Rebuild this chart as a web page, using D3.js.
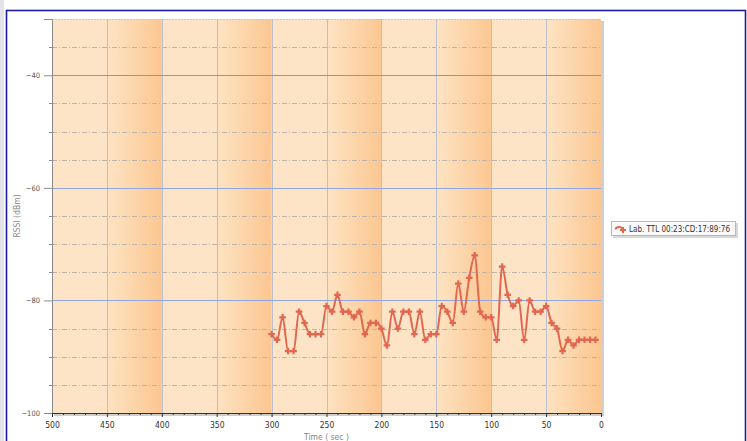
<!DOCTYPE html>
<html><head><meta charset="utf-8">
<script src="https://cdn.jsdelivr.net/npm/d3@7"></script>
<style>body{margin:0;background:#fff;}svg{display:block;}</style>
</head><body>
<svg id="c" width="747" height="441"></svg>
<script>
const seriesName = "Lab. TTL 00:23:CD:17:89:76";
const times = [300,295,290,285,280,275,270,265,260,255,250,245,240,235,230,225,220,215,210,205,200,195,190,185,180,175,170,165,160,155,150,145,140,135,130,125,120,115,110,105,100,95,90,85,80,75,70,65,60,55,50,45,40,35,30,25,20,15,10,5];
const rssi = [-86,-87,-83,-89,-89,-82,-84,-86,-86,-86,-81,-82,-79,-82,-82,-83,-82,-86,-84,-84,-85,-88,-82,-85,-82,-82,-86,-82,-87,-86,-86,-81,-82,-84,-77,-82,-76,-72,-82,-83,-83,-87,-74,-79,-81,-80,-87,-80,-82,-82,-81,-84,-85,-89,-87,-88,-87,-87,-87,-87];
const xTicks = [500,450,400,350,300,250,200,150,100,50,0];
const yTicks = [-100,-80,-60,-40];
const yMinor = [-95,-90,-85,-75,-70,-65,-55,-50,-45,-35];

const svg = d3.select("#c");
const L=52,R=601,T=19,B=413;
const x = d3.scaleLinear().domain([500,0]).range([L,R]);
const y = d3.scaleLinear().domain([-100,-30]).range([B,T]);
const font = "Tahoma,'DejaVu Sans Condensed','Liberation Sans',Arial,sans-serif";

// outer frame
svg.append("rect").attr("x",0).attr("y",0).attr("width",4).attr("height",441).attr("fill","#e4e4e8");
svg.append("rect").attr("x",6.5).attr("y",10.5).attr("width",739).attr("height",440).attr("fill","none").attr("stroke","#1c1ca0").attr("stroke-width",1.6);

const defs = svg.append("defs");
const g = defs.append("linearGradient").attr("id","band").attr("x1","0").attr("x2","1").attr("y1","0").attr("y2","0.05");
g.append("stop").attr("offset","0").attr("stop-color","#fde3c4");
g.append("stop").attr("offset","0.15").attr("stop-color","#fde0bd");
g.append("stop").attr("offset","1").attr("stop-color","#fcc792");

// plot shadow
svg.append("rect").attr("x",L+2).attr("y",T+2).attr("width",R-L+1).attr("height",B-T+1).attr("fill","#cfcfcf");
// background
svg.append("rect").attr("x",L).attr("y",T).attr("width",R-L).attr("height",B-T).attr("fill","#fde4c6");
for(let i=0;i<xTicks.length-1;i++){
  if(i%2===1){
    svg.append("rect").attr("x",x(xTicks[i])).attr("y",T).attr("width",x(xTicks[i+1])-x(xTicks[i])).attr("height",B-T).attr("fill","url(#band)");
  }
}
// minor dashed grid
svg.append("g").selectAll("line").data(yMinor).join("line")
  .attr("x1",L).attr("x2",R).attr("y1",d=>Math.round(y(d))+0.5).attr("y2",d=>Math.round(y(d))+0.5)
  .attr("stroke","#bdb3a9").attr("stroke-dasharray","5,2,1,2").attr("stroke-width",1);
svg.append("line").attr("x1",L).attr("x2",R).attr("y1",T+0.5).attr("y2",T+0.5).attr("stroke","#cdc6be").attr("stroke-dasharray","2,1");
// vertical grid
svg.append("g").selectAll("line").data(xTicks.filter(d=>d!==500&&d!==0)).join("line")
  .attr("x1",d=>Math.round(x(d))+0.5).attr("x2",d=>Math.round(x(d))+0.5).attr("y1",T).attr("y2",B)
  .attr("stroke","#bcc0cc").attr("stroke-width",1);
// major horizontal grid
svg.append("g").selectAll("line").data(yTicks.filter(d=>d!==-100)).join("line")
  .attr("x1",L).attr("x2",R).attr("y1",d=>Math.round(y(d))+0.5).attr("y2",d=>Math.round(y(d))+0.5)
  .attr("stroke",d=>d===-40?"#9e9690":"#8fa6e2").attr("stroke-width",1);

// y axis
const yAx = svg.append("g").attr("transform",`translate(${L},0)`)
  .call(d3.axisLeft(y).tickValues(yTicks).tickSize(8).tickPadding(4).tickFormat(d3.format("d")));
yAx.select(".domain").attr("stroke","#8a8a8a");
yAx.selectAll(".tick line").attr("stroke","#8a8a8a");
yAx.selectAll("text").attr("fill","#555").style("font-family",font).style("font-size","7.5px");
svg.append("g").selectAll("line").data(yMinor).join("line")
  .attr("x1",L-3).attr("x2",L).attr("y1",d=>Math.round(y(d))+0.5).attr("y2",d=>Math.round(y(d))+0.5).attr("stroke","#8a8a8a");

// x axis
const xAx = svg.append("g").attr("transform",`translate(0,${B})`)
  .call(d3.axisBottom(x).tickValues(xTicks).tickSize(4).tickPadding(5));
xAx.select(".domain").attr("stroke","#333");
xAx.selectAll(".tick line").attr("stroke","#333");
xAx.selectAll("text").attr("fill","#333").style("font-family",font).style("font-size","8.5px");
svg.append("g").attr("transform",`translate(0,${B})`)
  .call(d3.axisBottom(x).tickValues(d3.range(0,501,10).filter(d=>d%50!==0)).tickSize(2).tickFormat(""))
  .call(a=>{a.select(".domain").remove();a.selectAll("line").attr("stroke","#333");});

// labels
svg.append("text").attr("x",(L+R)/2).attr("y",440).attr("text-anchor","middle").attr("fill","#888")
  .style("font-family",font).style("font-size","8.5px").text("Time ( sec )");
svg.append("text").attr("transform",`translate(20,${(T+B)/2}) rotate(-90)`).attr("text-anchor","middle").attr("fill","#888")
  .style("font-family",font).style("font-size","8.5px").text("RSSI (dBm)");

// series
const data = times.map((t,i)=>({t,v:rssi[i]}));
const col = "#e2674f";
svg.append("path").datum(data).attr("fill","none").attr("stroke",col).attr("stroke-width",2)
  .attr("d",d3.line().x(d=>x(d.t)).y(d=>y(d.v)).curve(d3.curveMonotoneX));
svg.append("g").selectAll("path").data(data).join("path")
  .attr("transform",d=>`translate(${x(d.t)},${y(d.v)})`)
  .attr("d",d3.symbol(d3.symbolCross).size(24)).attr("fill",col);

// legend
const lg = svg.append("g").attr("transform","translate(611,221)");
lg.append("rect").attr("x",2).attr("y",2).attr("width",125).attr("height",15).attr("fill","#d8d8d8");
lg.append("rect").attr("x",0.5).attr("y",0.5).attr("width",124).attr("height",14).attr("fill","#fafafa").attr("stroke","#b8b8b8");
lg.append("path").attr("d","M4,8 Q9,3 14,10").attr("fill","none").attr("stroke",col).attr("stroke-width",2);
lg.append("path").attr("transform","translate(12,9)").attr("d",d3.symbol(d3.symbolCross).size(20)).attr("fill",col);
lg.append("text").attr("x",18).attr("y",10.5).attr("fill","#333")
  .style("font-family",font).style("font-size","8px").text(seriesName);
</script>
</body></html>
